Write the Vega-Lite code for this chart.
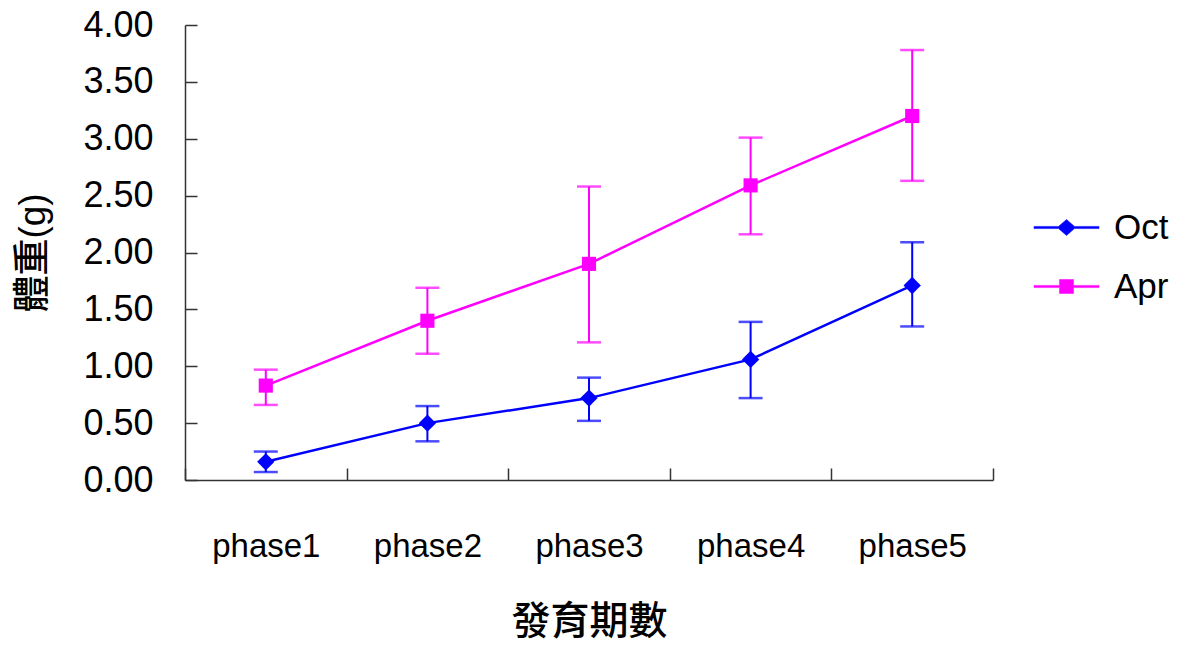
{
  "$schema": "https://vega.github.io/schema/vega-lite/v6.json",
  "width": 808,
  "height": 455,
  "autosize": "none",
  "padding": {"left": 185, "top": 25, "right": 196, "bottom": 165},
  "background": "white",
  "config": {
    "view": {"stroke": null},
    "font": "Liberation Sans, Noto Sans CJK TC",
    "axis": {"grid": false, "domainColor": "#333333", "tickColor": "#333333", "domainWidth": 1.5, "tickWidth": 1.5, "labelColor": "black", "titleColor": "black", "labelFont": "Liberation Sans", "labelFontSize": 34, "titleFontSize": 32, "titleFontWeight": 500, "titleFont": "Liberation Sans, Noto Sans CJK TC"}
  },
  "data": {
    "values": [
      {"phase": "phase1", "series": "Oct", "mean": 0.16, "lo": 0.07, "hi": 0.25},
      {"phase": "phase2", "series": "Oct", "mean": 0.50, "lo": 0.34, "hi": 0.65},
      {"phase": "phase3", "series": "Oct", "mean": 0.72, "lo": 0.52, "hi": 0.90},
      {"phase": "phase4", "series": "Oct", "mean": 1.06, "lo": 0.72, "hi": 1.39},
      {"phase": "phase5", "series": "Oct", "mean": 1.71, "lo": 1.35, "hi": 2.09},
      {"phase": "phase1", "series": "Apr", "mean": 0.83, "lo": 0.66, "hi": 0.97},
      {"phase": "phase2", "series": "Apr", "mean": 1.40, "lo": 1.11, "hi": 1.69},
      {"phase": "phase3", "series": "Apr", "mean": 1.90, "lo": 1.21, "hi": 2.58},
      {"phase": "phase4", "series": "Apr", "mean": 2.59, "lo": 2.16, "hi": 3.01},
      {"phase": "phase5", "series": "Apr", "mean": 3.20, "lo": 2.63, "hi": 3.78}
    ]
  },
  "encoding": {
    "x": {
      "field": "phase", "type": "nominal", "sort": null,
      "scale": {"paddingInner": 0, "paddingOuter": 0},
      "axis": {"title": "發育期數", "labelAngle": 0, "labelFontSize": 33, "tickBand": "extent", "tickSize": -12, "labelPadding": 62, "titlePadding": 39, "titleFontSize": 39}
    },
    "color": {
      "field": "series", "type": "nominal", "sort": ["Oct", "Apr"],
      "scale": {"domain": ["Oct", "Apr"], "range": ["#0000FF", "#FF00FF"]},
      "legend": {
        "title": null, "orient": "none", "legendX": 864, "legendY": 185,
        "labelFontSize": 35, "labelColor": "black", "labelFont": "Liberation Sans",
        "symbolSize": 400, "symbolStrokeWidth": 0.5, "rowPadding": 23, "labelOffset": 30,
        "encode": {"symbols": {"update": {
          "shape": {"signal": "datum.value === 'Oct' ? 'M-3.25,-0.11H-0.8L0,-0.8L0.8,-0.11H3.25V0.11H0.8L0,0.8L-0.8,0.11H-3.25Z' : 'M-3.25,-0.11H-0.7V-0.7H0.7V-0.11H3.25V0.11H0.7V0.7H-0.7V0.11H-3.25Z'"},
          "size": {"value": 400},
          "fill": {"scale": "color", "field": "value"},
          "stroke": {"scale": "color", "field": "value"},
          "strokeWidth": {"value": 0.5},
          "opacity": {"value": 1}
        }}}
      }
    }
  },
  "layer": [
    {
      "mark": {"type": "rule", "strokeWidth": 2},
      "encoding": {
        "y": {"field": "lo", "type": "quantitative"},
        "y2": {"field": "hi"}
      }
    },
    {
      "mark": {"type": "tick", "size": 24, "thickness": 2.5, "orient": "horizontal"},
      "encoding": {"y": {"field": "lo", "type": "quantitative"}}
    },
    {
      "mark": {"type": "tick", "size": 24, "thickness": 2.5, "orient": "horizontal"},
      "encoding": {"y": {"field": "hi", "type": "quantitative"}}
    },
    {
      "mark": {"type": "line", "strokeWidth": 2.5},
      "encoding": {
        "y": {
          "field": "mean", "type": "quantitative",
          "scale": {"domain": [0, 4], "nice": false},
          "axis": {"title": "體重(g)", "values": [0, 0.5, 1, 1.5, 2, 2.5, 3, 3.5, 4], "format": ".2f", "labelFontSize": 36, "tickSize": -12, "labelPadding": 44, "titlePadding": 30, "titleFontSize": 37}
        }
      }
    },
    {
      "transform": [{"filter": "datum.series === 'Oct'"}],
      "mark": {"type": "point", "filled": true, "opacity": 1, "shape": "diamond", "size": 300},
      "encoding": {"y": {"field": "mean", "type": "quantitative"}}
    },
    {
      "transform": [{"filter": "datum.series === 'Apr'"}],
      "mark": {"type": "point", "filled": true, "opacity": 1, "shape": "square", "size": 200},
      "encoding": {"y": {"field": "mean", "type": "quantitative"}}
    }
  ]
}
